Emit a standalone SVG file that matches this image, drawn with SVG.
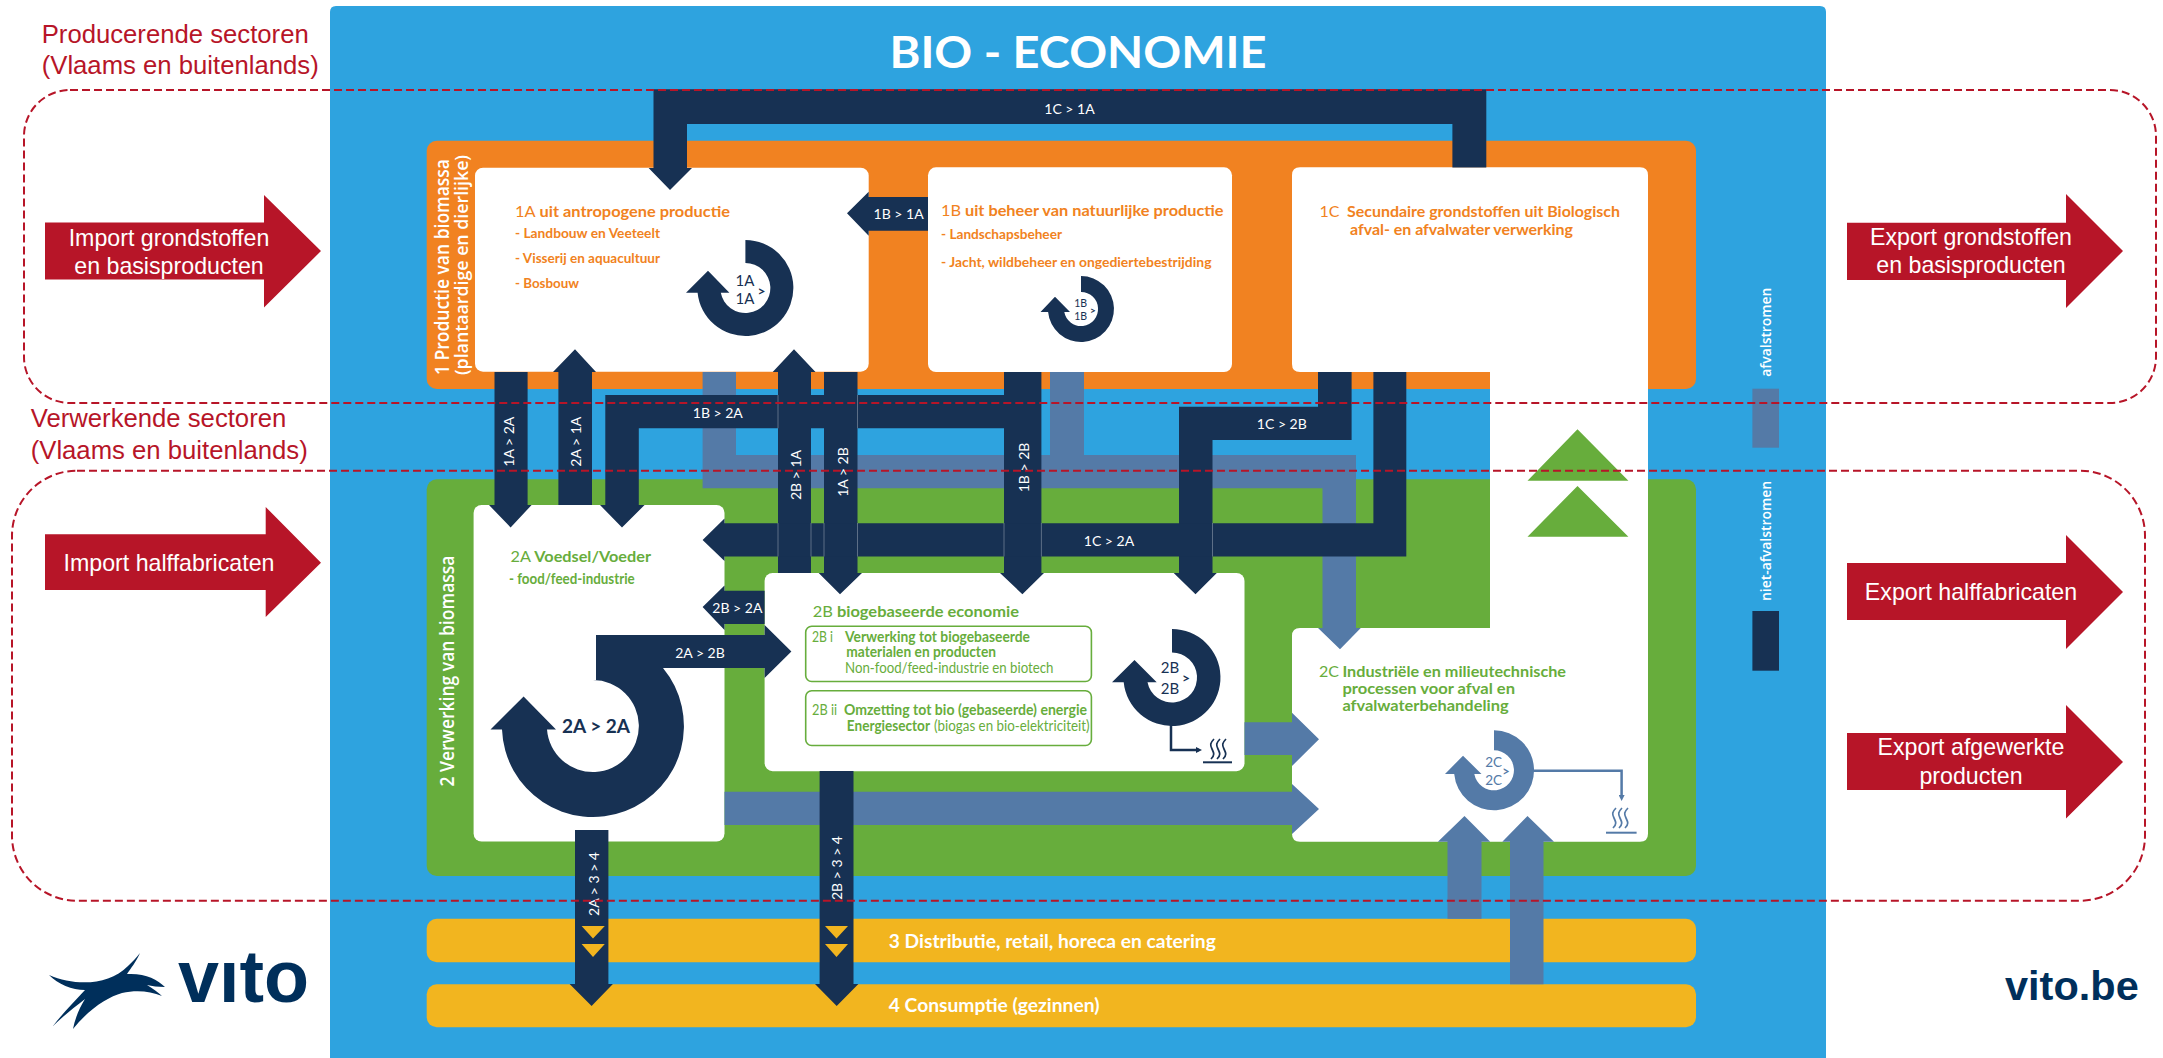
<svg xmlns="http://www.w3.org/2000/svg" width="2163" height="1058" viewBox="0 0 2163 1058">
<style>
text{font-family:"Lato","Noto Sans",sans-serif}
.ar{font-family:"Liberation Sans",Arial,sans-serif}
.os{font-family:"Open Sans","Noto Sans",sans-serif}
.white{fill:#fff}.box{fill:#fff}
.nv{fill:#173153}.st{fill:#547aa7}.rd{fill:#b71528}
.lb{fill:#fff;font-size:14px;text-anchor:middle;dominant-baseline:central}
.or{fill:#f18221;font-weight:700;font-size:16px}
.orr{fill:#f18221;font-weight:700;font-size:14px}
.gr{fill:#67ad3c;font-weight:700;font-size:16px}
.grs{fill:#67ad3c;font-weight:700;font-size:14.5px}
.reg{font-weight:400}
.ex{fill:#fff;font-size:23.2px;text-anchor:middle}
.sec{fill:#b71528;font-size:25.7px}
.dash{fill:none;stroke:#b71528;stroke-width:2;stroke-dasharray:8 4}
.side{fill:#fff;font-weight:600}
.yl{fill:#fff;font-weight:700;font-size:19px}
.ring{text-anchor:middle;dominant-baseline:central;font-weight:400}
.gt{font-weight:700}
.thin{fill:none;stroke-width:2.5}
.stm{fill:none;stroke:currentColor;stroke-width:1.7}
.seam{fill:none;stroke:#fff;stroke-opacity:.3;stroke-width:1}
</style>
<defs>
<g id="steam">
<path class="stm" d="M5 0C1 4 1 6 3 10S6 16 2 20M11 0C7 4 7 6 9 10S12 16 8 20M17 0C13 4 13 6 15 10S18 16 14 20"/>
</g>
<marker id="mn" markerWidth="6" markerHeight="6" refX="3" refY="3" orient="auto" markerUnits="userSpaceOnUse" viewBox="0 0 6 6"><path d="M0 0L6 3L0 6Z" fill="#173153"/></marker>
<marker id="ms" markerWidth="6" markerHeight="6" refX="3" refY="3" orient="auto" markerUnits="userSpaceOnUse" viewBox="0 0 6 6"><path d="M0 0L6 3L0 6Z" fill="#547aa7"/></marker>
</defs>
<rect width="2163" height="1058" fill="#fff"/>
<g id="frame">
<path d="M330 12Q330 6 336 6H1820Q1826 6 1826 12V1058H330Z" fill="#2ea3df"/>
<text x="1078" y="68" class="white" font-size="44" font-weight="700" text-anchor="middle" textLength="377" lengthAdjust="spacingAndGlyphs">BIO - ECONOMIE</text>
</g>
<g id="sector-1">
<rect x="426.7" y="140.7" width="1269.3" height="248.3" rx="10" fill="#f18221"/>
<text transform="translate(449 375) rotate(-90)" class="side os" font-size="19" textLength="216" lengthAdjust="spacingAndGlyphs">1 Productie van biomassa</text>
<text transform="translate(467.5 375) rotate(-90)" class="side os" font-size="18" textLength="220" lengthAdjust="spacingAndGlyphs">(plantaardige en dierlijke)</text>
</g>
<g id="sector-2">
<rect x="426.7" y="479.3" width="1269.3" height="396.7" rx="10" fill="#67ad3c"/>
<text transform="translate(453.5 786.5) rotate(-90)" class="side os" font-size="19" textLength="231" lengthAdjust="spacingAndGlyphs">2 Verwerking van biomassa</text>
</g>
<g id="sector-3">
<rect x="426.7" y="918.7" width="1269.3" height="43.6" rx="10" fill="#f2b51f"/>
<text x="888.8" y="947.7" class="yl" textLength="327" lengthAdjust="spacingAndGlyphs">3 Distributie, retail, horeca en catering</text>
</g>
<g id="sector-4">
<rect x="426.7" y="984.3" width="1269.3" height="43" rx="10" fill="#f2b51f"/>
<text x="888.8" y="1012" class="yl" textLength="210.7" lengthAdjust="spacingAndGlyphs">4 Consumptie (gezinnen)</text>
</g>
<g id="node-1A">
<rect x="475" y="167.7" width="393.7" height="204" rx="8" class="box"/>
<text x="515" y="216.7" class="or" textLength="215" lengthAdjust="spacingAndGlyphs"><tspan class="reg">1A</tspan> uit antropogene productie</text>
<text x="515" y="237.7" class="orr" textLength="145" lengthAdjust="spacingAndGlyphs">- Landbouw en Veeteelt</text>
<text x="515" y="263" class="orr" textLength="145" lengthAdjust="spacingAndGlyphs">- Visserij en aquacultuur</text>
<text x="515" y="288" class="orr" textLength="64" lengthAdjust="spacingAndGlyphs">- Bosbouw</text>
</g>
<g id="node-1B">
<rect x="928" y="167.3" width="304" height="204.7" rx="8" class="box"/>
<text x="941" y="216" class="or" textLength="282.6" lengthAdjust="spacingAndGlyphs"><tspan class="reg">1B</tspan> uit beheer van natuurlijke productie</text>
<text x="941" y="239" class="orr" textLength="121" lengthAdjust="spacingAndGlyphs">- Landschapsbeheer</text>
<text x="941" y="267.3" class="orr" textLength="270.5" lengthAdjust="spacingAndGlyphs">- Jacht, wildbeheer en ongediertebestrijding</text>
</g>
<g id="node-1C-2C">
<path class="box" d="M1300 167.3H1640Q1648 167.3 1648 175.3V833.7Q1648 841.7 1640 841.7H1300Q1292 841.7 1292 833.7V636Q1292 628 1300 628H1490V372H1300Q1292 372 1292 364V175.3Q1292 167.3 1300 167.3Z"/>
<text x="1319.6" y="217" class="or"><tspan class="reg">1C</tspan></text>
<text x="1347" y="217" class="or" textLength="273" lengthAdjust="spacingAndGlyphs">Secundaire grondstoffen uit Biologisch</text>
<text x="1350" y="235" class="or" textLength="223" lengthAdjust="spacingAndGlyphs">afval- en afvalwater verwerking</text>
<path d="M1577.5 429.3L1628.4 480.7H1527.5ZM1577.5 486L1628.4 536.7H1527.5Z" fill="#67ad3c"/>
<text x="1319" y="677.3" class="gr reg">2C</text>
<text x="1342.4" y="677.3" class="gr" textLength="223.6" lengthAdjust="spacingAndGlyphs">Industriële en milieutechnische</text>
<text x="1342.4" y="694" class="gr" textLength="172.6" lengthAdjust="spacingAndGlyphs">processen voor afval en</text>
<text x="1342.4" y="710.7" class="gr" textLength="166.2" lengthAdjust="spacingAndGlyphs">afvalwaterbehandeling</text>
</g>
<g id="node-2A">
<rect x="473.6" y="505" width="250.9" height="336.6" rx="8" class="box"/>
<text x="510.6" y="561.6" class="gr" textLength="140.4" lengthAdjust="spacingAndGlyphs"><tspan class="reg">2A</tspan> Voedsel/Voeder</text>
<text x="509" y="584.3" class="grs" textLength="125.7" lengthAdjust="spacingAndGlyphs">- food/feed-industrie</text>
</g>
<g id="node-2B">
<rect x="764.6" y="573" width="479.9" height="198.2" rx="8" class="box"/>
<text x="812.8" y="617.4" class="gr" textLength="206.2" lengthAdjust="spacingAndGlyphs"><tspan class="reg">2B</tspan> biogebaseerde economie</text>
<rect x="805.7" y="626.3" width="285.7" height="55.2" rx="6" fill="#fff" stroke="#67ad3c" stroke-width="1.6"/>
<rect x="805.7" y="690.7" width="285.7" height="54.8" rx="6" fill="#fff" stroke="#67ad3c" stroke-width="1.6"/>
<text x="812" y="641.6" class="grs reg" textLength="21" lengthAdjust="spacingAndGlyphs">2B i</text>
<text x="845" y="641.6" class="grs" textLength="185" lengthAdjust="spacingAndGlyphs">Verwerking tot biogebaseerde</text>
<text x="846.3" y="657.3" class="grs" textLength="149.7" lengthAdjust="spacingAndGlyphs">materialen en producten</text>
<text x="845" y="672.6" class="grs reg" textLength="208.5" lengthAdjust="spacingAndGlyphs">Non-food/feed-industrie en biotech</text>
<text x="812" y="715.3" class="grs reg" textLength="25" lengthAdjust="spacingAndGlyphs">2B ii</text>
<text x="844" y="715.3" class="grs" textLength="243" lengthAdjust="spacingAndGlyphs">Omzetting tot bio (gebaseerde) energie</text>
<text x="846.8" y="730.6" class="grs" textLength="83.2" lengthAdjust="spacingAndGlyphs">Energiesector</text>
<text x="934" y="730.6" class="grs reg" textLength="155.6" lengthAdjust="spacingAndGlyphs">(biogas en bio-elektriciteit)</text>
</g>
<g id="connectors">
<g class="st">
<path d="M702.6 372H736V455H1050V372H1084V455H1356V628H1360.8L1340 649.3L1318 628H1322.5V488.3H702.6Z"/>
<path d="M724.5 791.7H1292V784L1319 809L1292 834V825H724.5Z"/>
<path d="M1244.5 722.3H1292V712.7L1319 739.3L1292 766V755H1244.5Z"/>
<path d="M1447.5 918.7V841.7H1437.9L1464.5 816L1490.2 841.7H1481.5V918.7Z"/>
<path d="M1510 984.3V841.7H1502.3L1527.5 816L1554 841.7H1543.5V984.3Z"/>
</g>
<g class="nv">
<path d="M653.5 168V89.3H1486.3V167.5H1452.4V124H687V168H692L670 190L648.6 168Z"/>
<path d="M928 197V230.7H868.7V235.7L847 213.3L868.7 191.7V197Z"/>
<path d="M494.5 372H527.6V505H531.6L510.6 527.4L489 505H494.5Z"/>
<path d="M558.4 505V372H553L575 349.3L596 372H592V505Z"/>
<path d="M605.3 505V395H1004V372H1041.4V573H1044L1022.4 594.3L1000 573H1004V428.3H638.8V505H644.6L622 527.4L600 505Z"/>
<path d="M778 573V372H772.7L794 349.3L815.5 372H811V573Z"/>
<path d="M824 372H857.5V573H862L840 594.3L818.7 573H824Z"/>
<path d="M1318 372H1351.6V440H1212.5V573H1216.8L1195.5 594.3L1173.7 573H1179V406.7H1318Z"/>
<path d="M1373.4 372H1406.3V556.5H724.5V561L702.6 540L724.5 518.5V523.3H1373.4Z"/>
<path d="M764.6 678L791.4 651.6L764.6 625V635H596V680H593A46 46 0 1 1 547 729.5H556L523.6 696.4L490.5 729.5H502A91 91 0 1 0 663 668H764.6Z"/>
<path d="M764.6 590.7V624H724.5V630L702.6 607L724.5 585.4V590.7Z"/>
<path d="M575 830H608.4V984H612.9L591.6 1006L569.6 984H575Z"/>
<path d="M819.6 771H853.5V984H858.4L836.7 1006L815 984H819.6Z"/>
</g>
<path class="seam" d="M778 523V556.5M811 523V556.5M824 523V556.5M857.5 523V556.5M1004 523V556.5M1041.4 523V556.5M1212.5 523V556.5M778 395V428.3M857.5 395V428.3"/>
<path d="M581.6 926H604.8L593 938.4ZM581.6 944H604.8L593 957ZM825 926H848L836.5 938.4ZM825 944H848L836.5 957Z" fill="#f2b51f"/>
<text x="1069.5" y="108" class="lb">1C &gt; 1A</text>
<text x="898.6" y="213" class="lb">1B &gt; 1A</text>
<text x="717.8" y="412.7" class="lb">1B &gt; 2A</text>
<text x="1281.8" y="423" class="lb">1C &gt; 2B</text>
<text x="1109" y="540" class="lb">1C &gt; 2A</text>
<text x="737.4" y="607" class="lb">2B &gt; 2A</text>
<text x="700" y="652" class="lb">2A &gt; 2B</text>
<text transform="translate(508 441.7) rotate(-90)" class="lb">1A &gt; 2A</text>
<text transform="translate(575 441.7) rotate(-90)" class="lb">2A &gt; 1A</text>
<text transform="translate(795 475) rotate(-90)" class="lb">2B &gt; 1A</text>
<text transform="translate(842.8 472) rotate(-90)" class="lb">1A &gt; 2B</text>
<text transform="translate(1023.6 467.5) rotate(-90)" class="lb">1B &gt; 2B</text>
<text transform="translate(593.7 884) rotate(-90)" class="lb">2A &gt; 3 &gt; 4</text>
<text transform="translate(836.5 868) rotate(-90)" class="lb">2B &gt; 3 &gt; 4</text>
</g>
<g id="loop-1A">
<path class="nv" d="M745.4 240A48 48 0 1 1 697.6 292.7H686L708 270.7L729.4 292.7H720.8A25 25 0 1 0 745.4 263Z"/>
<text x="745" y="280" class="ring" fill="#173153" font-size="15">1A</text>
<text x="745" y="298" class="ring" fill="#173153" font-size="15">1A</text>
<text x="761.5" y="290" class="ring gt" fill="#173153" font-size="14">&gt;</text>
</g>
<g id="loop-1B">
<path class="nv" d="M1081 276A33 33 0 1 1 1048.1 312H1040.5L1055 296.7L1070 312H1064.3A17 17 0 1 0 1081 292Z"/>
<text x="1080.7" y="303" class="ring" fill="#173153" font-size="10.5">1B</text>
<text x="1080.7" y="316" class="ring" fill="#173153" font-size="10.5">1B</text>
<text x="1092.8" y="310" class="ring gt" fill="#173153" font-size="10">&gt;</text>
</g>
<g id="loop-2A">
<text x="596" y="725" class="ring gt" fill="#173153" font-size="19">2A &gt; 2A</text>
</g>
<g id="loop-2B">
<path class="nv" d="M1172 629A48.5 48.5 0 1 1 1123.7 682.3H1112L1134.5 660L1156.7 682.3H1147.5A25 25 0 1 0 1172 652.5Z"/>
<text x="1170" y="667.3" class="ring" fill="#173153" font-size="15">2B</text>
<text x="1170" y="687.7" class="ring" fill="#173153" font-size="15">2B</text>
<text x="1186" y="677.7" class="ring gt" fill="#173153" font-size="14">&gt;</text>
<path class="thin" stroke="#173153" d="M1171 725V750H1199" marker-end="url(#mn)"/>
<use href="#steam" x="1209" y="739" color="#173153"/>
<path d="M1203 762.3H1232" stroke="#173153" stroke-width="2"/>
</g>
<g id="loop-2C">
<path class="st" d="M1494 730.3A40 40 0 1 1 1454.2 774H1445L1463 755.7L1481.5 774H1474.3A20 20 0 1 0 1494 750.3Z"/>
<text x="1493.6" y="762" class="ring" fill="#547aa7" font-size="13.5">2C</text>
<text x="1493.6" y="780" class="ring" fill="#547aa7" font-size="13.5">2C</text>
<text x="1506" y="770.7" class="ring gt" fill="#547aa7" font-size="13">&gt;</text>
<path class="thin" stroke="#547aa7" d="M1533 770.7H1621.6V798" marker-end="url(#ms)"/>
<use href="#steam" x="1611" y="808" color="#547aa7"/>
<path d="M1606 832.7H1636.6" stroke="#547aa7" stroke-width="2"/>
</g>
<g id="legend">
<text transform="translate(1770.5 376.7) rotate(-90)" class="side os" font-size="14" textLength="89" lengthAdjust="spacingAndGlyphs">afvalstromen</text>
<rect x="1752.4" y="388.7" width="26.6" height="59" class="st"/>
<text transform="translate(1770.5 601) rotate(-90)" class="side os" font-size="14" textLength="120" lengthAdjust="spacingAndGlyphs">niet-afvalstromen</text>
<rect x="1752.4" y="611" width="26.6" height="59.7" class="nv"/>
</g>
<g id="import-grondstoffen">
<path class="rd" d="M45 222.6H264V195L321 251L264 307.6V279.6H45Z"/>
<text x="169" y="246" class="ex ar">Import grondstoffen</text>
<text x="169" y="273.6" class="ex ar">en basisproducten</text>
</g>
<g id="import-halffabricaten">
<path class="rd" d="M45 534.3H265.7V507L321 562.7L265.7 617V590H45Z"/>
<text x="169" y="570.7" class="ex ar">Import halffabricaten</text>
</g>
<g id="export-grondstoffen">
<path class="rd" d="M1847 222.7H2066V194L2123 251L2066 308V280H1847Z"/>
<text x="1971" y="245" class="ex ar">Export grondstoffen</text>
<text x="1971" y="273" class="ex ar">en basisproducten</text>
</g>
<g id="export-halffabricaten">
<path class="rd" d="M1847 563H2066V535L2123 592L2066 649V620H1847Z"/>
<text x="1971" y="599.6" class="ex ar">Export halffabricaten</text>
</g>
<g id="export-afgewerkte">
<path class="rd" d="M1847 733H2066V705L2123 762L2066 818.5V790H1847Z"/>
<text x="1971" y="755" class="ex ar">Export afgewerkte</text>
<text x="1971" y="783.6" class="ex ar">producten</text>
</g>
<g id="sector-labels">
<text x="41.7" y="42.7" class="sec ar">Producerende sectoren</text>
<text x="41.7" y="73.5" class="sec ar">(Vlaams en buitenlands)</text>
<text x="30.7" y="427" class="sec ar">Verwerkende sectoren</text>
<text x="30.7" y="458.7" class="sec ar">(Vlaams en buitenlands)</text>
<rect x="24" y="90" width="2132" height="313" rx="46" class="dash"/>
<rect x="12" y="470.7" width="2133" height="430" rx="65" class="dash"/>
</g>
<g id="logo">
<path fill="#002f5b" d="M49 975C75 986 108 986 128 966C133 961 137 957 140 953C136 962 131 968 127 974C145 973 157 979 165 987C158 987 152 986 147 985C153 989 158 992 162 996C150 991 136 990 122 993C108 997 90 1008 73 1029C75 1018 80 1007 85 999C75 1007 63 1016 53 1026C62 1014 74 1002 85 990C72 990 58 984 49 975Z"/>
<text x="178" y="1001.7" class="ar" font-size="74" font-weight="700" fill="#002f5b" textLength="131" lengthAdjust="spacingAndGlyphs">vito</text>
<rect x="219" y="944" width="21" height="18" fill="#fff"/>
<text x="2005" y="1000" class="ar" font-size="41.5" font-weight="700" fill="#002f5b">vito.be</text>
</g>
</svg>
